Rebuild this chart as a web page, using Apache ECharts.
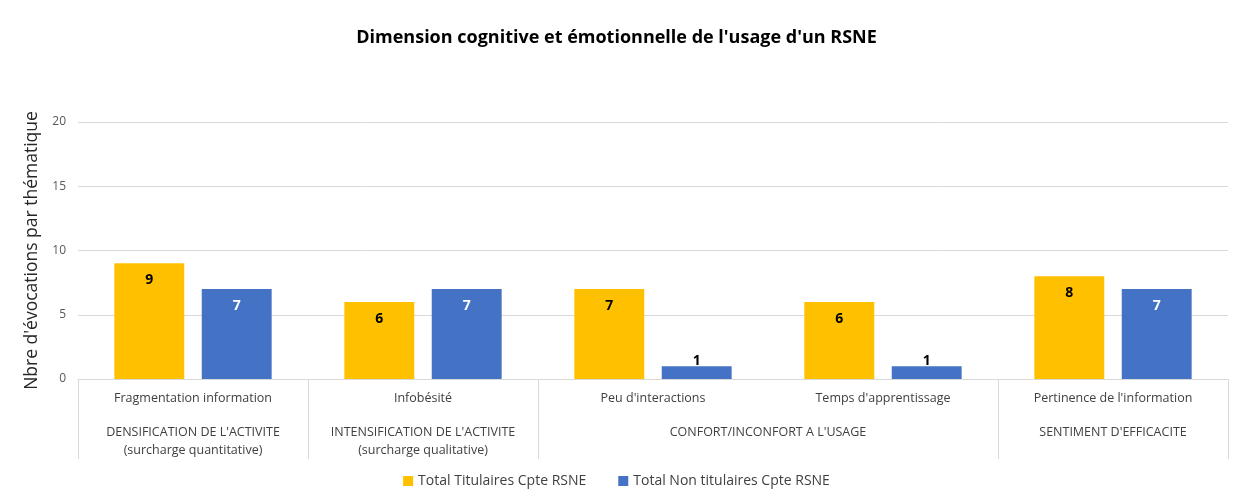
<!DOCTYPE html>
<html>
<head>
<meta charset="utf-8">
<script src="https://cdn.jsdelivr.net/npm/echarts@6/dist/echarts.min.js"></script>
<style>
  html, body { margin: 0; padding: 0; background: #fff; }
  #chart { width: 1233px; height: 499px; }
</style>
</head>
<body>
<div id="chart"></div>
<script>
// sous-catégories (niveau 1 de l'axe)
const categories = [
    'Fragmentation information',
    'Infobésité',
    "Peu d'interactions",
    "Temps d'apprentissage",
    "Pertinence de l'information"
]
// regroupements (niveau 2 de l'axe) et leur étendue en index de catégories
const groups = [
    "DENSIFICATION DE L'ACTIVITE\n(surcharge quantitative)",
    "INTENSIFICATION DE L'ACTIVITE\n(surcharge qualitative)",
    "CONFORT/INCONFORT A L'USAGE",
    "SENTIMENT D'EFFICACITE"
]
const groupSpans = [[0, 1], [1, 2], [2, 4], [4, 5]]

const titulaires = [9, 6, 7, 6, 8]
const nonTitulaires = [7, 7, 1, 1, 7]

const yTicks = [0, 5, 10, 15, 20]

const FONT = "'Open Sans', 'Noto Sans', sans-serif"
const YELLOW = '#FFC000'
const BLUE = '#4472C4'
const GRID_COLOR = '#d9d9d9'

// positions des libellés de groupe = milieu de chaque étendue
const groupMid = groupSpans.map(s => (s[0] + s[1]) / 2)
const groupBounds = [...new Set(groupSpans.flat())]

const chart = echarts.init(document.getElementById('chart'))

// petites barres : étiquette au-dessus, en noir
const toData = (values, color) => values.map(v => v < 2
    ? { value: v, label: { position: 'top', distance: -2, color: '#000' } }
    : { value: v, label: { color } })

const option = {
    animation: false,
    title: {
        text: "Dimension cognitive et émotionnelle de l'usage d'un RSNE",
        left: 'center',
        top: 24,
        textStyle: { fontFamily: FONT, fontSize: 18, fontWeight: 'bold', color: '#000' }
    },
    legend: {
        bottom: 6,
        left: 'center',
        itemWidth: 10,
        itemHeight: 10,
        itemGap: 32,
        icon: 'rect',
        textStyle: { fontFamily: FONT, fontSize: 14, color: '#404040' },
        data: ['Total Titulaires Cpte RSNE', 'Total Non titulaires Cpte RSNE']
    },
    grid: { left: 78, right: 5, top: 122, bottom: 120, containLabel: false },
    xAxis: [
        {
            type: 'category',
            data: categories,
            axisLine: { lineStyle: { color: GRID_COLOR } },
            axisTick: { show: false },
            axisLabel: {
                interval: 0,
                margin: 13,
                fontFamily: FONT,
                fontSize: 12.5,
                color: '#404040'
            }
        },
        {
            type: 'value',
            position: 'bottom',
            min: 0,
            max: categories.length,
            axisLine: { show: false },
            splitLine: { show: false },
            axisTick: {
                show: true,
                customValues: groupBounds,
                length: 80,
                lineStyle: { color: GRID_COLOR }
            },
            axisLabel: {
                customValues: groupMid,
                margin: 44,
                fontFamily: FONT,
                fontSize: 12.5,
                lineHeight: 18,
                color: '#404040',
                verticalAlign: 'top',
                formatter: v => {
                    const i = groupMid.indexOf(v)
                    return i >= 0 ? groups[i] : ''
                }
            }
        }
    ],
    yAxis: {
        type: 'value',
        min: 0,
        max: 20,
        interval: 5,
        name: "Nbre d'évocations par thématique",
        nameLocation: 'middle',
        nameGap: 28,
        nameTextStyle: { fontFamily: FONT, fontSize: 17.5, color: '#262626' },
        axisLine: { show: false },
        axisTick: { show: false },
        axisLabel: {
            margin: 12,
            fontFamily: FONT,
            fontSize: 12,
            color: '#595959',
            formatter: v => yTicks.includes(v) ? String(v) : ''
        },
        splitLine: { lineStyle: { color: GRID_COLOR } }
    },
    series: [
        {
            name: 'Total Titulaires Cpte RSNE',
            type: 'bar',
            barWidth: '30.4%',
            barGap: '25%',
            itemStyle: { color: YELLOW },
            label: {
                show: true,
                position: 'insideTop',
                distance: 10,
                fontFamily: FONT,
                fontSize: 14,
                fontWeight: 'bold'
            },
            data: toData(titulaires, '#000')
        },
        {
            name: 'Total Non titulaires Cpte RSNE',
            type: 'bar',
            barWidth: '30.4%',
            barGap: '25%',
            itemStyle: { color: BLUE },
            label: {
                show: true,
                position: 'insideTop',
                distance: 10,
                fontFamily: FONT,
                fontSize: 14,
                fontWeight: 'bold'
            },
            data: toData(nonTitulaires, '#fff')
        }
    ]
}

chart.setOption(option)
</script>
</body>
</html>
